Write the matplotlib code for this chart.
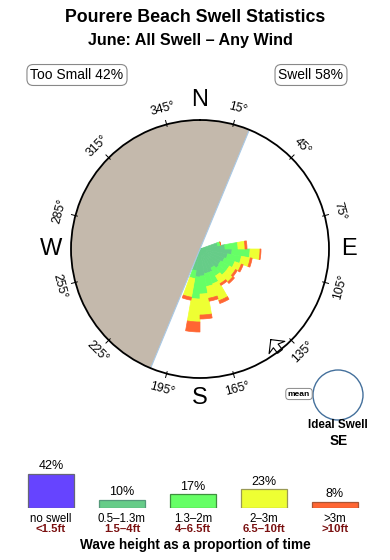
import numpy as np
import matplotlib
matplotlib.use('Agg')
import matplotlib.pyplot as plt
from matplotlib.patches import Circle

plt.rcParams['font.family'] = ['Liberation Sans', 'DejaVu Sans']

# swell rose: 10 degree direction bins, radial length of each height band
bin_start = [70, 80, 90, 100, 110, 120, 130, 140, 150, 160, 170, 180, 190]
band_05_13 = [18, 25, 32, 28, 26, 24, 25, 22, 25, 25, 27, 28, 22]
band_13_2 = [3, 13, 18, 14, 11, 10, 9, 9, 12, 13, 18, 22, 8]
band_2_3 = [0, 7, 10, 9, 7, 7, 9, 9, 18, 12, 21, 23, 19]
band_3_up = [0, 2, 1, 2, 2, 2, 2, 2, 3, 3, 4, 10, 3]

# legend: share of time per wave height
legend_labels = ['no swell', '0.5–1.3m', '1.3–2m', '2–3m', '>3m']
legend_feet = ['<1.5ft', '1.5–4ft', '4–6.5ft', '6.5–10ft', '>10ft']
legend_pct = [42, 10, 17, 23, 8]

compass_ticks = [15, 45, 75, 105, 135, 165, 195, 225, 255, 285, 315, 345]
land_from = 202.5   # shadowed directions (land), degrees
land_span = 180
ideal_dir = 142

colors = ['#6644ff', '#66cc88', '#66ff66', '#eeff33', '#ff6633']
edges = ['#666677', '#55997a', '#3f8f3f', '#999955', '#aa5533']
rmax = 129

fig = plt.figure(figsize=(3.9, 5.6), dpi=100)


def px(x, y):
    return x / 390, 1 - y / 560


fig.text(*px(195, 18), 'Pourere Beach Swell Statistics', ha='center', va='center',
         fontsize=12.8, fontweight='bold')
fig.text(*px(190, 41), 'June: All Swell – Any Wind', ha='center', va='center',
         fontsize=11.6, fontweight='bold')

box = dict(boxstyle='round,pad=0.25,rounding_size=0.45', fc='white', ec='#888888', lw=0.8)
fig.text(*px(77, 75), 'Too Small 42%', ha='center', va='center', fontsize=10, bbox=box)
fig.text(*px(311, 75), 'Swell 58%', ha='center', va='center', fontsize=10, bbox=box)

# ---- rose ----
ax = fig.add_axes([(200 - rmax) / 390, (560 - 249 - rmax) / 560, 2 * rmax / 390, 2 * rmax / 560],
                  projection='polar')
ax.set_theta_zero_location('N')
ax.set_theta_direction(-1)

ax.bar(np.deg2rad(land_from), rmax, width=np.deg2rad(land_span), align='edge',
       color='#c4b9ac', linewidth=0)
for d in (land_from, land_from + land_span):
    ax.plot([np.deg2rad(d)] * 2, [0, rmax], color='#a9c9e6', lw=0.8)

theta = np.deg2rad(bin_start)
width = np.deg2rad(10)
bottom = np.zeros(len(bin_start))
for band, c in zip([band_05_13, band_13_2, band_2_3, band_3_up], colors[1:]):
    ax.bar(theta, band, width=width, bottom=bottom, align='edge', color=c,
           edgecolor=c, linewidth=0.5)
    bottom = bottom + np.array(band)

ax.set_ylim(0, rmax)
ax.set_xticks([])
ax.set_yticks([])
ax.grid(False)
ax.spines['polar'].set_linewidth(1.3)

for t in compass_ticks:
    th = np.deg2rad(t)
    ax.plot([th, th], [rmax - 2, rmax + 4], color='k', lw=0.7, clip_on=False)
    if t < 90:
        rot = -t
    elif t < 270:
        rot = 180 - t
    else:
        rot = 360 - t
    ax.text(th, rmax + 16, f'{t}°', rotation=rot, rotation_mode='anchor',
            ha='center', va='center', fontsize=8.8, clip_on=False)

for lab, d in zip(['N', 'E', 'S', 'W'], [0, 90, 180, 270]):
    ax.text(np.deg2rad(d), rmax + 20, lab, ha='center', va='center', fontsize=17, clip_on=False)

# ideal swell arrow on the rim
b = np.deg2rad(ideal_dir)
u = np.array([np.sin(b), np.cos(b)])
v = np.array([np.cos(b), -np.sin(b)])
tip = 115 * u
shape = [(0, 0), (10, 10), (8, 3), (15, 3), (15, -3), (8, -3), (10, -10), (0, 0)]
pts = np.array([tip + a * u + c * v for a, c in shape])
ax.plot(np.arctan2(pts[:, 0], pts[:, 1]), np.hypot(pts[:, 0], pts[:, 1]),
        color='k', lw=0.8, clip_on=False)

# ---- mean / ideal swell ----
ax3 = fig.add_axes([(338 - 26) / 390, (560 - 395 - 26) / 560, 52 / 390, 52 / 560])
ax3.add_patch(Circle((0, 0), 1, fill=False, ec='#44709c', lw=1))
ax3.set_xlim(-1.04, 1.04)
ax3.set_ylim(-1.04, 1.04)
ax3.axis('off')
fig.text(*px(299, 394), 'mean', ha='center', va='center', fontsize=6, fontweight='bold',
         bbox=dict(boxstyle='round,pad=0.25,rounding_size=0.4', fc='white', ec='#888888', lw=0.7))
fig.text(*px(338, 425), 'Ideal Swell', ha='center', va='center', fontsize=8.4, fontweight='bold')
fig.text(*px(339, 441), 'SE', ha='center', va='center', fontsize=9.8, fontweight='bold')

# ---- legend bars ----
ax2 = fig.add_axes([15.5 / 390, 52 / 560, 355 / 390, 40.5 / 560])
x = np.arange(len(legend_pct))
ax2.bar(x, legend_pct, width=0.65, color=colors, edgecolor=edges, linewidth=0.9)
ax2.set_xlim(-0.5, 4.5)
ax2.set_ylim(0, 50)
ax2.axis('off')
for i, p in enumerate(legend_pct):
    ax2.annotate(f'{p}%', (i, p), xytext=(0, 3.3), textcoords='offset points',
                 ha='center', va='baseline', fontsize=9, annotation_clip=False)
    ax2.annotate(legend_labels[i], (i, 0), xytext=(0, -7.6), textcoords='offset points',
                 ha='center', va='center', fontsize=8.3, annotation_clip=False)
    ax2.annotate(legend_feet[i], (i, 0), xytext=(0, -15.0), textcoords='offset points',
                 ha='center', va='center', fontsize=8.2, fontweight='bold', color='#7a1010',
                 annotation_clip=False)
fig.text(*px(195, 545), 'Wave height as a proportion of time', ha='center', va='center',
         fontsize=9.8, fontweight='bold')

fig.savefig('out.png', dpi=100)
